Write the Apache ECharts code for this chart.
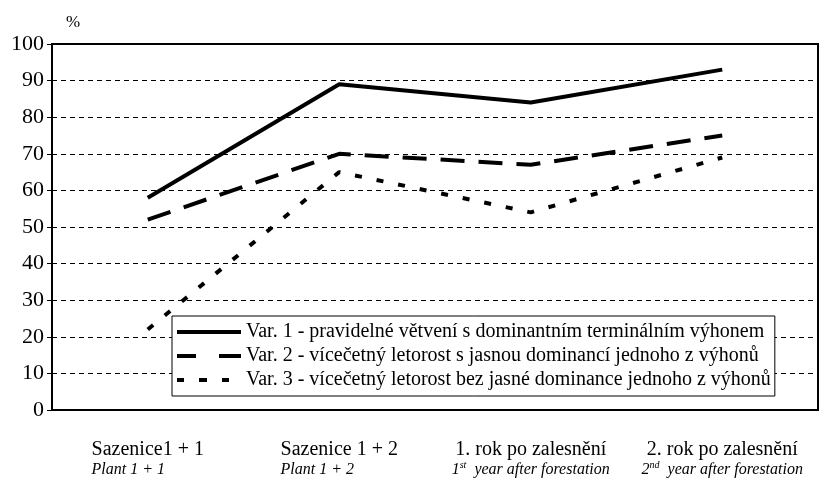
<!DOCTYPE html>
<html>
<head>
<meta charset="utf-8">
<script src="https://cdn.jsdelivr.net/npm/echarts@6/dist/echarts.min.js"></script>
<style>
  html, body { margin: 0; padding: 0; background: #fff; }
  #chart { width: 830px; height: 478px; }
</style>
</head>
<body>
<div id="chart"></div>
<script>
// categories (first line czech, second line english in italics)
var categories = ['Sazenice1 + 1', 'Sazenice 1 + 2', '1. rok po zalesnění', '2. rok po zalesnění'];
var subLabels = ['Plant 1 + 1', 'Plant 1 + 2', 'year after forestation', 'year after forestation'];
var subPrefix = ['', '', '1', '2'];
var subSup = ['', '', 'st', 'nd'];

var var1 = [58, 89, 84, 93];
var var2 = [52, 70, 67, 75];
var var3 = [22, 65, 54, 69];

var seriesNames = [
  'Var. 1 - pravidelné větvení s dominantním terminálním výhonem',
  'Var. 2 - vícečetný letorost s jasnou dominancí jednoho z výhonů',
  'Var. 3 - vícečetný letorost bez jasné dominance jednoho z výhonů'
];

var FONT = '"Liberation Serif", "Times New Roman", serif';

// legend icons drawn like the excel line samples (64 x 4 box)
var legendIcons = [
  'path://M0 0H64V4H0Z',
  'path://M0 0H19V4H0ZM42 0H64V4H42Z',
  'path://M0 0H7V4H0ZM22 0H30V4H22ZM45 0H52V4H45ZM64 0L64 0'
];

var chart = echarts.init(document.getElementById('chart'));

var option = {
  animation: false,
  backgroundColor: '#fff',
  title: {
    text: '%',
    left: 61,
    top: 9,
    textStyle: { fontFamily: FONT, fontSize: 17, fontWeight: 'normal', color: '#000' }
  },
  grid: {
    left: 52, right: 12, top: 44, bottom: 66,
    show: true, borderColor: '#000', borderWidth: 2
  },
  legend: {
    orient: 'vertical',
    left: 172, top: 316,
    padding: [6, 4, 6, 5],
    itemWidth: 64, itemHeight: 4, itemGap: 4,
    backgroundColor: '#fff',
    borderColor: '#000', borderWidth: 1,
    itemStyle: { color: '#000', borderWidth: 0 },
    textStyle: { fontFamily: FONT, fontSize: 20, color: '#000', lineHeight: 20 },
    data: seriesNames.map(function (n, i) { return { name: n, icon: legendIcons[i] }; })
  },
  xAxis: {
    type: 'category',
    data: categories,
    boundaryGap: true,
    axisLine: { lineStyle: { color: '#000', width: 2 } },
    axisTick: { length: 6, lineStyle: { color: '#000', width: 1.5 } },
    axisLabel: {
      margin: 29,
      interval: 0,
      formatter: function (v, i) {
        if (i < 2) return '{a|' + v + '}\n{b|' + subLabels[i] + '}';
        return '{c|' + v + '}\n{d|' + subPrefix[i] + '}{sup|' + subSup[i] + '}{d|  ' + subLabels[i] + '}';
      },
      rich: {
        a: { fontFamily: FONT, fontSize: 20, color: '#000', align: 'left', lineHeight: 21 },
        b: { fontFamily: FONT, fontSize: 16, fontStyle: 'italic', color: '#000', align: 'left', lineHeight: 20 },
        c: { fontFamily: FONT, fontSize: 20, color: '#000', lineHeight: 21 },
        d: { fontFamily: FONT, fontSize: 16, fontStyle: 'italic', color: '#000', lineHeight: 20 },
        sup: { fontFamily: FONT, fontSize: 10, fontStyle: 'italic', color: '#000', verticalAlign: 'top', lineHeight: 20 }
      }
    }
  },
  yAxis: {
    type: 'value',
    min: 0, max: 100, interval: 10,
    axisLine: { show: true, lineStyle: { color: '#000', width: 2 } },
    axisTick: { show: true, length: 5, lineStyle: { color: '#000', width: 1 } },
    axisLabel: { fontFamily: FONT, fontSize: 22, color: '#000', margin: 8 },
    splitLine: { lineStyle: { color: '#000', width: 1, type: [5, 4] } }
  },
  series: [
    {
      name: seriesNames[0], type: 'line', data: var1,
      symbol: 'none', color: '#000',
      lineStyle: { color: '#000', width: 4, type: 'solid' }
    },
    {
      name: seriesNames[1], type: 'line', data: var2,
      symbol: 'none', color: '#000',
      lineStyle: { color: '#000', width: 4, type: [24, 14] }
    },
    {
      name: seriesNames[2], type: 'line', data: var3,
      symbol: 'none', color: '#000',
      lineStyle: { color: '#000', width: 4, type: [7, 15] }
    }
  ]
};

chart.setOption(option);
</script>
</body>
</html>
